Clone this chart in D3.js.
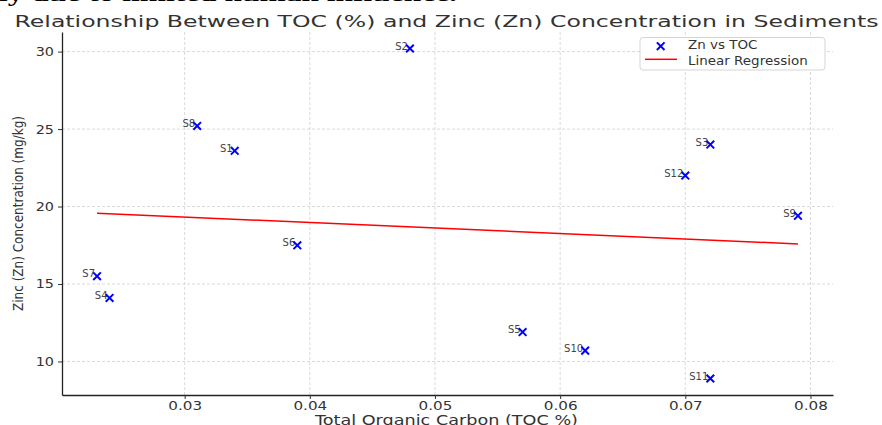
<!DOCTYPE html>
<html>
<head>
<meta charset="utf-8">
<script src="https://cdn.jsdelivr.net/npm/d3@7/dist/d3.min.js"></script>
<style>
  body { margin: 0; background: #fff; }
  svg { display: block; font-family: "DejaVu Sans", sans-serif; }
</style>
</head>
<body>
<div id="chart"></div>
<script>
// sample data
var samples = ["S1","S2","S3","S4","S5","S6","S7","S8","S9","S10","S11","S12"];
var toc     = [0.034, 0.048, 0.072, 0.024, 0.057, 0.039, 0.023, 0.031, 0.079, 0.062, 0.072, 0.070];
var zinc    = [23.6, 30.2, 24.0, 14.1, 11.9, 17.5, 15.5, 25.2, 19.4, 10.7, 8.9, 22.0];
var xTicks  = [0.03, 0.04, 0.05, 0.06, 0.07, 0.08];
var yTicks  = [10, 15, 20, 25, 30];

function init(){

    var w = 882;
    var h = 425;
    var left = 62, right = 833, top = 32, bottom = 395;

    var data = samples.map(function(s, i){
        return { name: s, x: toc[i], y: zinc[i] };
    });

    // matplotlib style 5% margins
    var xe = d3.extent(toc), ye = d3.extent(zinc);
    var xm = (xe[1] - xe[0]) * 0.05, ym = (ye[1] - ye[0]) * 0.05;

    var x = d3.scaleLinear()
                .domain([xe[0] - xm, xe[1] + xm])
                .range([left, right]);

    var y = d3.scaleLinear()
                .domain([ye[0] - ym, ye[1] + ym])
                .range([bottom, top]);

    var svg = d3.select("#chart")
                .append("svg")
                .attr("width", w)
                .attr("height", h);

    // text in the picture is wider than normal, stretch it
    function stretch(sel, k){
        sel.each(function(){
            var len = this.getComputedTextLength();
            d3.select(this)
                .attr("textLength", len * k)
                .attr("lengthAdjust", "spacingAndGlyphs");
        });
    }

    // leftover line of the page above the chart, cut at the top
    svg.append("text")
        .attr("x", -1)
        .attr("y", 1)
        .style("font-family", "'Liberation Serif', serif")
        .style("font-weight", "bold")
        .style("font-size", "21px")
        .attr("fill", "#000")
        .attr("textLength", 458)
        .attr("lengthAdjust", "spacingAndGlyphs")
        .text("ly due to limited human influence.");

    // grid
    svg.append("g")
        .selectAll("line")
        .data(xTicks)
        .enter()
        .append("line")
        .attr("x1", function(d){ return x(d); })
        .attr("x2", function(d){ return x(d); })
        .attr("y1", top)
        .attr("y2", bottom)
        .attr("stroke", "#cfcfcf")
        .attr("stroke-width", 0.8)
        .attr("stroke-dasharray", "3,2");

    svg.append("g")
        .selectAll("line")
        .data(yTicks)
        .enter()
        .append("line")
        .attr("x1", left)
        .attr("x2", right)
        .attr("y1", function(d){ return y(d); })
        .attr("y2", function(d){ return y(d); })
        .attr("stroke", "#cfcfcf")
        .attr("stroke-width", 0.8)
        .attr("stroke-dasharray", "3,2");

    // axes
    var xAxis = svg.append("g")
        .attr("transform", "translate(0," + bottom + ")")
        .call(d3.axisBottom(x).tickValues(xTicks).tickFormat(d3.format(".2f")).tickSize(4).tickSizeOuter(0));

    var yAxis = svg.append("g")
        .attr("transform", "translate(" + left + ",0)")
        .call(d3.axisLeft(y).tickValues(yTicks).tickSize(4).tickSizeOuter(0));

    [xAxis, yAxis].forEach(function(a){
        a.select(".domain").attr("stroke", "#222").attr("stroke-width", 1.3);
        a.selectAll(".tick line").attr("stroke", "#333");
        a.selectAll(".tick text")
            .attr("fill", "#333")
            .style("font-family", "'DejaVu Sans', sans-serif");
    });

    xAxis.selectAll(".tick text").style("font-size", "11.5px");
    yAxis.selectAll(".tick text").style("font-size", "12.5px").attr("x", -8);
    stretch(xAxis.selectAll(".tick text"), 1.32);
    stretch(yAxis.selectAll(".tick text"), 1.15);

    // regression line from least squares
    var mx = d3.mean(toc), my = d3.mean(zinc);
    var sxy = d3.sum(data, function(d){ return (d.x - mx) * (d.y - my); });
    var sxx = d3.sum(data, function(d){ return (d.x - mx) * (d.x - mx); });
    var slope = sxy / sxx;
    var icpt = my - slope * mx;
    var fit = xe.map(function(v){ return { x: v, y: icpt + slope * v }; });

    svg.append("path")
        .datum(fit)
        .attr("d", d3.line()
            .x(function(d){ return x(d.x); })
            .y(function(d){ return y(d.y); }))
        .attr("fill", "none")
        .attr("stroke", "#ff0000")
        .attr("stroke-width", 1.5);

    // sample labels, ending just left of the marker centre
    var labels = svg.append("g")
        .selectAll("text")
        .data(data)
        .enter()
        .append("text")
        .attr("x", function(d){ return x(d.x) - 2; })
        .attr("y", function(d){ return y(d.y) + 1; })
        .attr("text-anchor", "end")
        .style("font-size", "10px")
        .attr("fill", "#444")
        .text(function(d){ return d.name; });

    // x markers
    var cross = d3.symbol().type(d3.symbolX).size(40);

    svg.append("g")
        .selectAll("path")
        .data(data)
        .enter()
        .append("path")
        .attr("d", cross)
        .attr("transform", function(d){ return "translate(" + x(d.x) + "," + y(d.y) + ")"; })
        .attr("fill", "none")
        .attr("stroke", "#0000ff")
        .attr("stroke-width", 2);

    // title and axis labels
    svg.append("text")
        .attr("x", (left + right) / 2 - 1)
        .attr("y", 26.5)
        .attr("text-anchor", "middle")
        .style("font-size", "16.5px")
        .attr("fill", "#333")
        .attr("textLength", 864)
        .attr("lengthAdjust", "spacingAndGlyphs")
        .text("Relationship Between TOC (%) and Zinc (Zn) Concentration in Sediments");

    svg.append("text")
        .attr("x", (left + right) / 2 - 1)
        .attr("y", 425)
        .attr("text-anchor", "middle")
        .style("font-size", "13.5px")
        .attr("fill", "#333")
        .attr("textLength", 263)
        .attr("lengthAdjust", "spacingAndGlyphs")
        .text("Total Organic Carbon (TOC %)");

    svg.append("text")
        .attr("transform", "translate(23," + ((top + bottom) / 2) + ") rotate(-90)")
        .attr("text-anchor", "middle")
        .style("font-size", "13.5px")
        .attr("fill", "#333")
        .attr("textLength", 195)
        .attr("lengthAdjust", "spacingAndGlyphs")
        .text("Zinc (Zn) Concentration (mg/kg)");

    // legend
    var lg = svg.append("g").attr("transform", "translate(640,37.5)");

    lg.append("rect")
        .attr("width", 185)
        .attr("height", 32.5)
        .attr("rx", 3)
        .attr("fill", "#fff")
        .attr("fill-opacity", 0.85)
        .attr("stroke", "#d5d5d5");

    lg.append("path")
        .attr("d", cross)
        .attr("transform", "translate(20.7,8.7)")
        .attr("fill", "none")
        .attr("stroke", "#0000ff")
        .attr("stroke-width", 2);

    lg.append("line")
        .attr("x1", 5).attr("x2", 37)
        .attr("y1", 21.8).attr("y2", 21.8)
        .attr("stroke", "#ff0000")
        .attr("stroke-width", 1.5);

    var lt = lg.selectAll("text.item")
        .data(["Zn vs TOC", "Linear Regression"])
        .enter()
        .append("text")
        .attr("class", "item")
        .attr("x", 48)
        .attr("y", function(d, i){ return 11.8 + i * 15.2; })
        .style("font-size", "11.5px")
        .attr("fill", "#333")
        .text(function(d){ return d; });
    stretch(lt, 1.17);
}

window.onload = init;
</script>
</body>
</html>
